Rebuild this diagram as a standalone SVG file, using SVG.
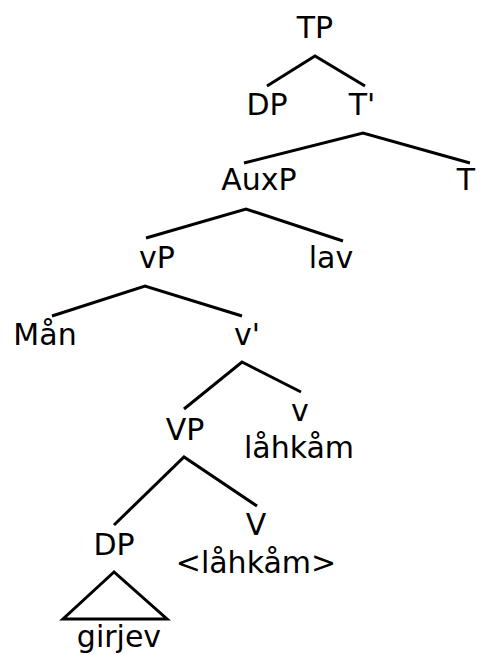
<svg xmlns="http://www.w3.org/2000/svg" width="482" height="655" viewBox="0 0 482 655">
<style>
text{font-family:"DejaVu Sans","Liberation Sans",sans-serif;font-size:30px;fill:#000;text-anchor:middle}
.e{stroke:#000;stroke-width:3;fill:none;stroke-linecap:butt}
</style>
<rect width="482" height="655" fill="#fff"/>
<g id="edges">
<polyline class="e" points="267,86 315,56 365,86"/>
<polyline class="e" points="244,163 363,133 470,163"/>
<polyline class="e" points="146,238 246,209 343,241"/>
<polyline class="e" points="52,316 145,286 242,316"/>
<polyline class="e" points="184,409 242,362 301,392"/>
<polyline class="e" points="114,525 184,457 257,506"/>
<polygon class="e" points="114,572 63,619 167,619"/>
</g>
<g id="TP"><text x="315" y="38">TP</text></g>
<g id="DP1"><text x="267" y="115">DP</text></g>
<g id="Tbar"><text x="362" y="115">T'</text></g>
<g id="AuxP"><text x="259" y="190">AuxP</text></g>
<g id="T"><text x="466" y="190">T</text></g>
<g id="vP"><text x="157" y="268">vP</text></g>
<g id="lav"><text x="331" y="268">lav</text></g>
<g id="Man"><text x="45" y="345">Mån</text></g>
<g id="vbar"><text x="247" y="345">v'</text></g>
<g id="v"><text x="300" y="421">v</text><text x="299" y="458">låhkåm</text></g>
<g id="VP"><text x="185" y="440">VP</text></g>
<g id="DP2"><text x="114" y="555">DP</text></g>
<g id="V"><text x="256" y="535">V</text><text x="256" y="573">&lt;låhkåm&gt;</text></g>
<g id="girjev"><text x="119" y="647">girjev</text></g>
</svg>
